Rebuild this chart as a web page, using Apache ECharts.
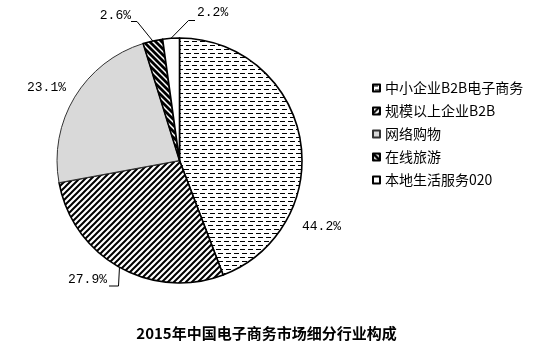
<!DOCTYPE html>
<html>
<head>
<meta charset="utf-8">
<script src="https://cdn.jsdelivr.net/npm/echarts@6/dist/echarts.min.js"></script>
<style>
  html, body { margin: 0; padding: 0; background: #fff; }
  #chart { width: 533px; height: 355px; }
</style>
</head>
<body>
<div id="chart"></div>
<script>
// 2015 market segments (%), clockwise from 12 o'clock
const categories = ['中小企业B2B电子商务', '规模以上企业B2B', '网络购物', '在线旅游', '本地生活服务020']
const shares = [44.2, 27.9, 23.1, 2.6, 2.2]

// label placement, Excel-style (x, y, align, line elbow/end)
const labelPos = [
  { x: 302, y: 227, align: 'left' },
  { x: 107, y: 280, align: 'right', line: [[118.5, 286], [109, 286]] },
  { x: 27, y: 88, align: 'left' },
  { x: 131, y: 16, align: 'right', line: [[137, 21.5], [131, 21.5]] },
  { x: 197, y: 13, align: 'left', line: [[188.5, 20.5], [195, 20.5]] }
]

function tile(w, h, draw) {
  const c = document.createElement('canvas')
  c.width = w; c.height = h
  const g = c.getContext('2d')
  g.fillStyle = '#fff'; g.fillRect(0, 0, w, h)
  draw(g)
  return { image: c, repeat: 'repeat' }
}
// short horizontal dashes
const dashFill = tile(8, 8, g => {
  g.fillStyle = '#000'
  g.fillRect(0, 1, 5, 1)
  g.fillRect(2, 5, 5, 1)
})
// "/" hatch
const slashFill = tile(6, 6, g => {
  g.strokeStyle = '#000'; g.lineWidth = 2
  g.beginPath()
  g.moveTo(-1, 7); g.lineTo(7, -1)
  g.moveTo(-4, 4); g.lineTo(4, -4)
  g.moveTo(2, 10); g.lineTo(10, 2)
  g.stroke()
})
// heavy "\" hatch
const backFill = tile(6, 6, g => {
  g.strokeStyle = '#000'; g.lineWidth = 2.8
  g.beginPath()
  g.moveTo(-1, -1); g.lineTo(7, 7)
  g.moveTo(-4, 2); g.lineTo(4, 10)
  g.moveTo(2, -4); g.lineTo(10, 4)
  g.stroke()
})
const fills = [dashFill, slashFill, '#d9d9d9', backFill, '#fff']

const chart = echarts.init(document.getElementById('chart'))
chart.setOption({
  animation: false,
  title: {
    text: '2015年中国电子商务市场细分行业构成',
    left: 'center', top: 321,
    textStyle: { fontFamily: 'Noto Sans CJK SC', fontSize: 15, fontWeight: 'bold', color: '#000' }
  },
  legend: {
    orient: 'vertical', left: 367, top: 76,
    itemWidth: 7, itemHeight: 7, itemGap: 9, icon: 'rect',
    textStyle: { fontFamily: 'Noto Sans CJK SC', fontSize: 14, color: '#000' },
    data: categories
  },
  series: [{
    type: 'pie',
    center: [179.5, 160.5], radius: 122.5,
    startAngle: 90, clockwise: true,
    label: {
      show: true, position: 'outside', overflow: 'none',
      formatter: p => p.value.toFixed(1) + '%',
      fontFamily: 'Liberation Mono', fontSize: 13, color: '#000'
    },
    labelLine: { show: true, lineStyle: { color: '#000', width: 1 } },
    labelLayout: p => {
      const l = labelPos[p.dataIndex]
      const out = { x: l.x, y: l.y, align: l.align, verticalAlign: 'middle' }
      if (l.line && p.labelLinePoints) {
        out.labelLinePoints = [p.labelLinePoints[0], l.line[0], l.line[1]]
      }
      return out
    },
    emphasis: { disabled: true },
    data: categories.map((name, i) => ({
      name, value: shares[i],
      itemStyle: {
        color: fills[i],
        borderColor: i === 2 ? '#333' : '#000',
        borderWidth: i === 2 ? 1 : 1.6
      },
      labelLine: { show: !!labelPos[i].line }
    }))
  }]
})
</script>
</body>
</html>
